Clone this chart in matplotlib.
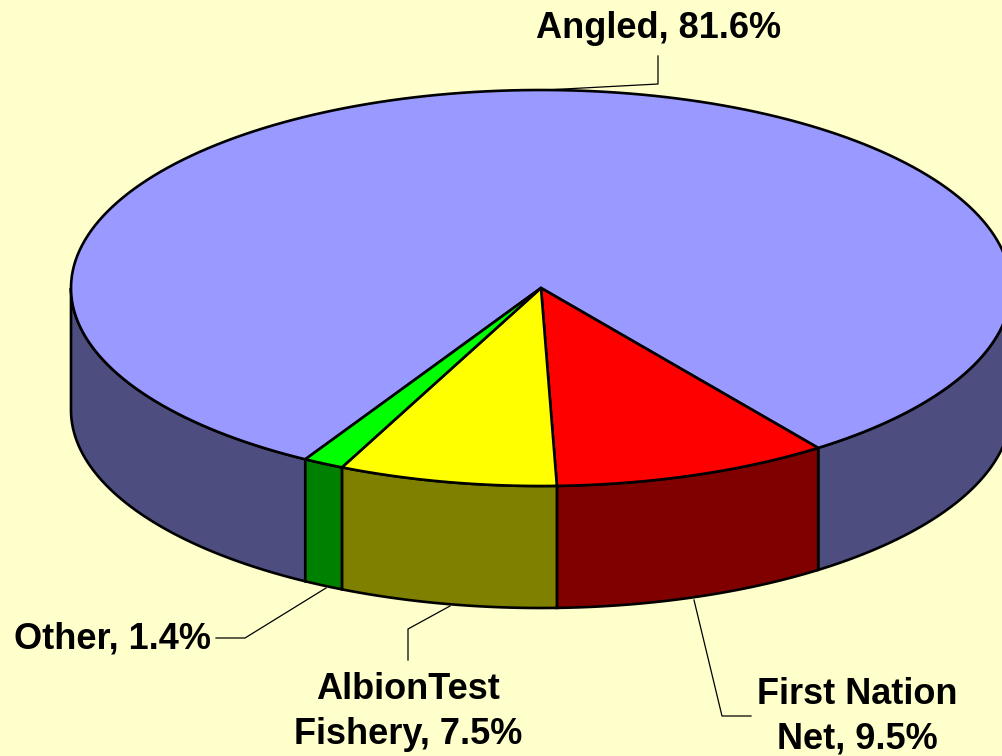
import numpy as np
import matplotlib
matplotlib.use("Agg")
import matplotlib.pyplot as plt

labels = ["Angled, 81.6%", "First Nation\nNet, 9.5%", "AlbionTest\nFishery, 7.5%", "Other, 1.4%"]
values = [81.6, 9.5, 7.5, 1.4]
top_colors = ["#9999FF", "#FF0000", "#FFFF00", "#00FF00"]
side_colors = ["#4D4D80", "#800000", "#808000", "#008000"]

# pie geometry in pixels
cx, cy = 541, 288
rx, ry = 470, 198
depth = 122
start = 120.1  # where the angled slice starts, clockwise on screen

plt.rcParams["font.family"] = ["Liberation Sans", "DejaVu Sans"]

fig = plt.figure(figsize=(10.02, 7.56), dpi=100, facecolor="#FFFFCC")
ax = fig.add_axes([0, 0, 1, 1])
ax.set_xlim(0, 1002)
ax.set_ylim(756, 0)
ax.axis("off")


def rim(t1, t2):
    t = np.radians(np.linspace(t1, t2, 200))
    return cx + rx * np.cos(t), cy + ry * np.sin(t)


# slice angles from the values
angle = start
slices = []
for v in values:
    slices.append((angle, angle + v * 3.6))
    angle += v * 3.6

# side walls, only the front half of the rim shows
for (a1, a2), col in zip(slices, side_colors):
    for off in (0, 360, -360):
        lo = max(a1 + off, 0)
        hi = min(a2 + off, 180)
        if hi > lo:
            x, y = rim(lo, hi)
            ax.fill(np.r_[x, x[::-1]], np.r_[y, y[::-1] + depth], fc=col, ec="black", lw=1.9, zorder=2)

# top faces
for (a1, a2), col in zip(slices, top_colors):
    x, y = rim(a1, a2)
    ax.fill(np.r_[cx, x], np.r_[cy, y], fc=col, ec="black", lw=1.9, zorder=3, joinstyle="round")

# leader lines
lw = 0.9
ax.plot([545, 658, 658], [90, 84, 56], color="black", lw=lw, zorder=1)
ax.plot([694, 722, 751], [600, 716, 716], color="black", lw=lw, zorder=1)
ax.plot([450, 408, 408], [606, 629, 660], color="black", lw=lw, zorder=1)
ax.plot([326, 245, 216], [588, 638, 638], color="black", lw=lw, zorder=1)

# label text, one text per line on its baseline
fs = 26
label_x = [659, 857, 408, 113]
label_y = [38, 704, 699, 649]
line_gap = 45
for lab, lx, ly in zip(labels, label_x, label_y):
    for i, line in enumerate(lab.split("\n")):
        ax.text(lx, ly + i * line_gap, line, ha="center", va="baseline", fontsize=fs, fontweight="bold")

fig.savefig("out.png", dpi=100, facecolor=fig.get_facecolor())
